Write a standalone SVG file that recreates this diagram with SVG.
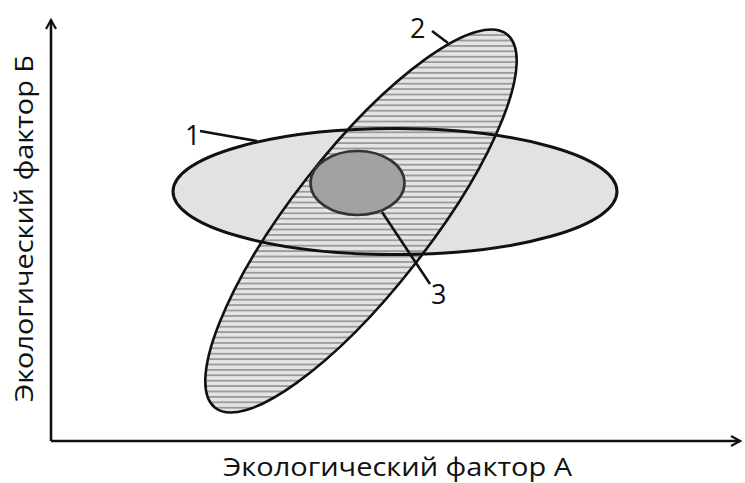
<svg xmlns="http://www.w3.org/2000/svg" width="745" height="483" viewBox="0 0 745 483">
<style>
.lbl{font-family:"Open Sans","Noto Sans","Liberation Sans",sans-serif;fill:#111}
.num{font-family:"Open Sans","Noto Sans","Liberation Sans",sans-serif;font-size:27px;fill:#111}
.axis{stroke:#111;stroke-width:2.6;fill:none}
.lead{stroke:#111;stroke-width:2.6;fill:none}
</style>
<defs>
<pattern id="hatch" patternUnits="userSpaceOnUse" width="10" height="5.4" patternTransform="rotate(52 361 221)">
<rect width="10" height="5.4" fill="#e4e4e4"/>
<line x1="0" y1="2.7" x2="10" y2="2.7" stroke="#9a9a9a" stroke-width="1.8"/>
</pattern>
<marker id="arr" viewBox="0 0 12 12" refX="10" refY="6" markerWidth="12" markerHeight="12" markerUnits="userSpaceOnUse" orient="auto">
<path d="M1,1 L10,6 L1,11" fill="none" stroke="#111" stroke-width="2.2"/>
</marker>
</defs>
<rect width="745" height="483" fill="#fff"/>
<g id="axes">
<line class="axis" x1="51" y1="441" x2="51" y2="20" marker-end="url(#arr)"/>
<line class="axis" x1="51" y1="441" x2="740" y2="441" marker-end="url(#arr)"/>
</g>
<g id="node1-fill">
<ellipse cx="395" cy="191.5" rx="222" ry="63" fill="#e2e2e2"/>
</g>
<g id="node2">
<ellipse cx="361" cy="221" rx="237" ry="69" transform="rotate(-52 361 221)" fill="url(#hatch)" stroke="#111" stroke-width="2.6"/>
</g>
<g id="node1">
<ellipse cx="395" cy="191.5" rx="222" ry="63" fill="none" stroke="#111" stroke-width="3"/>
</g>
<g id="node3">
<ellipse cx="357.5" cy="183" rx="47" ry="32" fill="#a2a2a2" stroke="#333" stroke-width="2.6"/>
</g>
<g id="connectors">
<line class="lead" x1="200" y1="131" x2="257" y2="141"/>
<line class="lead" x1="432" y1="31" x2="448" y2="43"/>
<line class="lead" x1="382" y1="212" x2="430" y2="284"/>
</g>
<g id="labels">
<text class="num" x="185" y="145">1</text>
<text class="num" x="410" y="38">2</text>
<text class="num" x="431" y="304">3</text>
<text class="lbl" x="223" y="476" font-size="25.5" textLength="349" lengthAdjust="spacingAndGlyphs">Экологический фактор А</text>
<text class="lbl" transform="translate(33 402) rotate(-90)" font-size="26" textLength="347" lengthAdjust="spacingAndGlyphs">Экологический фактор Б</text>
</g>
</svg>
